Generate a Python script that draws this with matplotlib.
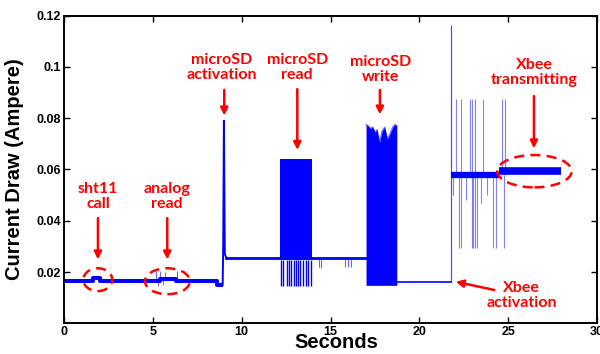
import matplotlib
matplotlib.use("Agg")
import matplotlib.pyplot as plt
from matplotlib.patches import Ellipse

# ---- data (seconds, ampere) ----
# idle current before the microSD is switched on (step levels)
idle_t = [0.0, 1.65, 2.03, 5.40, 6.30, 8.62, 8.93]
idle_v = [0.0165, 0.0178, 0.0165, 0.0172, 0.0165, 0.0150, 0.0150]

# small glitches during the analog read
analog_spk_t = [5.18, 5.27, 5.40, 5.55, 5.68, 6.34]
analog_spk_v = [0.0205, 0.0145, 0.0205, 0.0150, 0.0200, 0.0205]

# microSD activation peak
act_t = [8.93, 8.96, 9.00, 9.05, 9.12]
act_v = [0.0150, 0.0300, 0.0790, 0.0270, 0.0258]

# microSD idle level
sd_idle_t = [9.12, 12.13, 13.93, 17.00]
sd_idle_v = [0.0253, 0.0253, 0.0253, 0.0253]
sd_dip_t = [14.38, 14.48, 15.82, 16.00, 16.16]
sd_dip_v = [0.0220, 0.0215, 0.0220, 0.0220, 0.0220]

# microSD read burst
read_span = [12.13, 13.93]
read_hi = 0.064
read_solid_lo = 0.0245
read_lo = 0.0145
read_spk_t = [12.19, 12.32, 12.55, 12.66, 12.79, 12.94, 13.07, 13.18,
              13.31, 13.44, 13.60, 13.75, 13.88]

# microSD write burst (jagged top edge)
write_top_t = [17.00, 17.12, 17.25, 17.38, 17.50, 17.62, 17.76, 17.90,
               18.05, 18.20, 18.35, 18.50, 18.62, 18.73]
write_top_v = [0.0775, 0.0770, 0.0760, 0.0765, 0.0745, 0.0755, 0.0705,
               0.0750, 0.0765, 0.0718, 0.0740, 0.0765, 0.0775, 0.0770]
write_lo = 0.0148

# idle after the write
post_t = [18.73, 21.78]
post_v = [0.0162, 0.0162]

# Xbee activation spike
xbee_spike_t = 21.78
xbee_spike_v = 0.1163

# Xbee on, then transmitting
xbee_on_t = [21.80, 24.50]
xbee_on_v = [0.0578, 0.0578]
xbee_tx_t = [24.50, 28.00]
xbee_tx_v = [0.0595, 0.0595]
xbee_up_t = [22.06, 22.36, 22.85, 22.96, 23.16, 23.56, 24.68, 24.81]
xbee_up_v = [0.0874, 0.0874, 0.0874, 0.0874, 0.0874, 0.0874, 0.0874, 0.0874]
xbee_dn_t = [21.90, 22.25, 22.32, 22.60, 22.94, 23.03, 23.15, 23.24,
             23.45, 23.80, 24.16, 24.29, 24.74]
xbee_dn_v = [0.0500, 0.0292, 0.0292, 0.0480, 0.0292, 0.0292, 0.0292,
             0.0292, 0.0470, 0.0500, 0.0292, 0.0292, 0.0292]

x_ticks = [0, 5, 10, 15, 20, 25, 30]
y_ticks = [0.02, 0.04, 0.06, 0.08, 0.1, 0.12]
y_tick_labels = ["0.02", "0.04", "0.06", "0.08", "0.1", "0.12"]

# labels: text, text position, arrow start, arrow end
notes = [
    ("sht11\ncall", (1.91, 0.0496), (1.91, 0.0410), (1.91, 0.0249)),
    ("analog\nread", (5.81, 0.0496), (5.81, 0.0410), (5.81, 0.0249)),
    ("microSD\nactivation", (8.86, 0.0997), (9.02, 0.0910), (9.02, 0.0810)),
    ("microSD\nread", (13.13, 0.0997), (13.13, 0.0913), (13.13, 0.0676)),
    ("microSD\nwrite", (17.84, 0.0990), (17.78, 0.0910), (17.78, 0.0814)),
    ("Xbee\ntransmitting", (26.45, 0.0977), (26.45, 0.0886), (26.45, 0.0682)),
    ("Xbee\nactivation", (25.76, 0.0109), (24.21, 0.0130), (22.05, 0.0162)),
]
# dashed rings: centre, width, height
rings = [
    ((1.90, 0.0170), 1.63, 0.0089),
    ((5.82, 0.0164), 2.53, 0.0101),
    ((26.48, 0.0593), 4.19, 0.0126),
]

blue = "#0000ff"
red = "#ff0000"

fig = plt.figure(figsize=(6, 3.54), dpi=100)
ax = fig.add_axes([0.1067, 0.0867, 0.8883, 0.8695])

ax.plot(idle_t, idle_v, color=blue, lw=2.9, drawstyle="steps-post",
        solid_capstyle="butt")
ax.vlines(analog_spk_t, 0.0168, analog_spk_v, color=blue, lw=0.7, alpha=0.6)
ax.plot(act_t, act_v, color=blue, lw=1.4)
ax.plot(sd_idle_t[:2], sd_idle_v[:2], color=blue, lw=2.0)
ax.plot(sd_idle_t[2:], sd_idle_v[2:], color=blue, lw=2.0)
ax.vlines(sd_dip_t, 0.0250, sd_dip_v, color=blue, lw=0.8, alpha=0.6)

ax.fill_between(read_span, read_solid_lo, read_hi, color=blue, lw=0)
ax.vlines(read_spk_t, read_lo, read_solid_lo, color=blue, lw=1.0)

ax.fill_between(write_top_t, write_lo, write_top_v, color=blue, lw=0)
ax.plot(write_top_t, write_top_v, color=blue, lw=0.8, alpha=0.6)

ax.plot(post_t, post_v, color=blue, lw=1.2)
ax.vlines([xbee_spike_t], post_v[-1], xbee_spike_v, color=blue, lw=0.9,
          alpha=0.7)

ax.vlines(xbee_up_t, xbee_on_v[0], xbee_up_v, color=blue, lw=0.8, alpha=0.5)
ax.vlines(xbee_dn_t, xbee_dn_v, xbee_on_v[0], color=blue, lw=0.8, alpha=0.5)
ax.plot(xbee_on_t, xbee_on_v, color=blue, lw=4.5, solid_capstyle="butt")
ax.plot(xbee_tx_t, xbee_tx_v, color=blue, lw=5.5, solid_capstyle="butt")

for centre, w, h in rings:
    ax.add_patch(Ellipse(centre, w, h, fill=False, edgecolor=red, lw=1.8,
                         linestyle=(0, (4, 2.5)), zorder=5))

for text, pos, start, end in notes:
    ax.text(pos[0], pos[1], text, color=red, fontsize=11.5, ha="center",
            va="center", family="Lato", fontweight="bold", linespacing=1.1)
    ax.annotate("", xy=end, xytext=start,
                arrowprops=dict(arrowstyle="-|>", color=red, lw=1.8,
                                mutation_scale=11, shrinkA=0, shrinkB=0))

ax.set_xlim(0, 30)
ax.set_ylim(0, 0.12)
ax.set_xticks(x_ticks)
ax.set_xticklabels([str(t) for t in x_ticks])
ax.set_yticks(y_ticks)
ax.set_yticklabels(y_tick_labels)
ax.tick_params(direction="in", length=4, width=1, top=True, right=True,
               pad=2)
for lab in ax.get_xticklabels() + ax.get_yticklabels():
    lab.set_family("Liberation Sans")
    lab.set_fontweight("bold")
    lab.set_fontsize(9)
for sp in ax.spines.values():
    sp.set_linewidth(1.4)

ax.set_ylabel("Current Draw (Ampere)", family="Liberation Sans",
              fontweight="bold", fontsize=14.5)
ax.yaxis.set_label_coords(-0.075, 0.5)
ax.set_xlabel("Seconds", family="Liberation Sans", fontweight="bold",
              fontsize=14.5)
ax.xaxis.set_label_coords(0.51, -0.03)

# only the top edge of the caption line below shows in the crop
fig.text(0.17, -0.003, "Figure 3.2: Real-time Power Consumption of Diff",
         color="#555555", fontsize=17, family="Liberation Sans", va="top",
         zorder=0)

fig.savefig("out.png", dpi=100)
